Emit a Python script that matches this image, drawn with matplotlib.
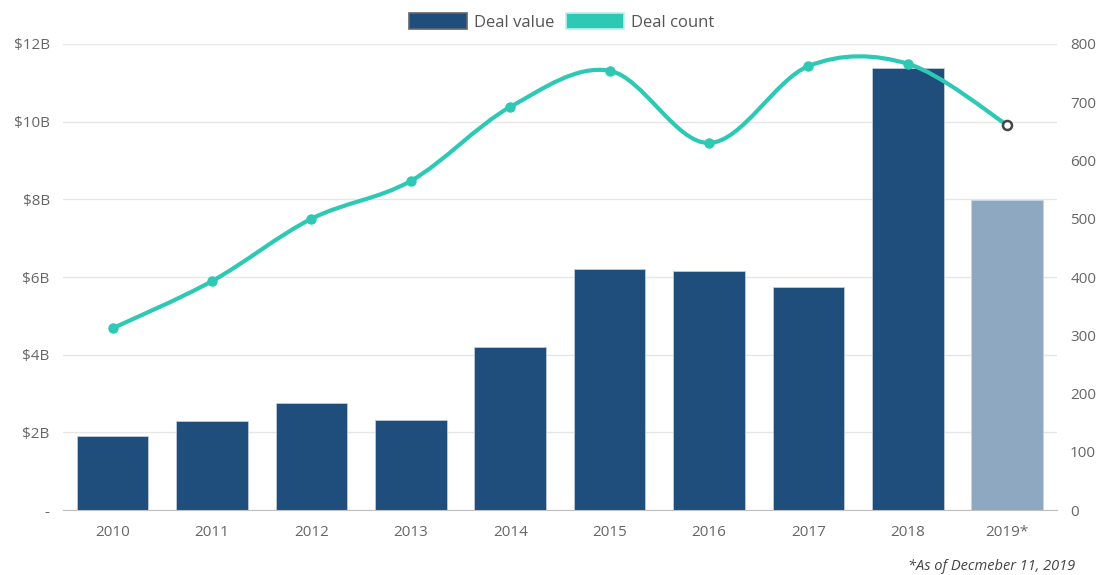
import numpy as np
import matplotlib
matplotlib.use("Agg")
import matplotlib.pyplot as plt
from matplotlib.path import Path
from matplotlib.patches import PathPatch, Patch

years = ["2010", "2011", "2012", "2013", "2014", "2015", "2016", "2017", "2018", "2019*"]
deal_value_b = [1.90, 2.29, 2.76, 2.32, 4.20, 6.20, 6.16, 5.74, 11.38, 7.98]
deal_count = [312, 393, 500, 565, 692, 754, 630, 762, 766, 661]
left_ticks = [0, 2, 4, 6, 8, 10, 12]
left_labels = ["-", "$2B", "$4B", "$6B", "$8B", "$10B", "$12B"]
right_ticks = [0, 100, 200, 300, 400, 500, 600, 700, 800]

BAR = "#1f4e7c"
BAR_LIGHT = "#8fa8c1"
TEAL = "#2ec9b5"
TXT = "#666666"

plt.rcParams['font.family'] = ['Open Sans', 'DejaVu Sans']

fig = plt.figure(figsize=(11.05, 5.75), dpi=100)
ax = fig.add_axes([0.057, 0.113, 0.8995, 0.8105])
ax2 = ax.twinx()

x = np.arange(len(years))
colors = [BAR] * (len(years) - 1) + [BAR_LIGHT]
ax.bar(x, deal_value_b, width=0.72, color=colors, edgecolor="#c8d3de", linewidth=0.5, zorder=2)
ax.set_xlim(-0.5, len(years) - 0.5)
ax.set_ylim(0, 12)
ax.set_yticks(left_ticks)
ax.set_yticklabels(left_labels)
ax.set_xticks(x)
ax.set_xticklabels(years)
ax.grid(axis="y", color="#e6e6e6", linewidth=1, zorder=0)
ax.set_axisbelow(True)
for s in ["top", "right", "left"]:
    ax.spines[s].set_visible(False)
ax.spines["bottom"].set_color("#bfbfbf")
ax.tick_params(axis="y", length=0, pad=9.5, labelsize=11, labelcolor=TXT)
ax.tick_params(axis="x", length=0, pad=11, labelsize=11, labelcolor=TXT)

# Catmull-Rom style smooth curve through the data points
def smooth_path(xs, ys):
    n = len(xs)
    xs_e = [xs[0]] + list(xs) + [xs[-1]]
    ys_e = [ys[0]] + list(ys) + [ys[-1]]
    verts = [(xs[0], ys[0])]
    codes = [Path.MOVETO]
    for i in range(n - 1):
        p0 = (xs_e[i], ys_e[i])
        p1 = (xs_e[i + 1], ys_e[i + 1])
        p2 = (xs_e[i + 2], ys_e[i + 2])
        p3 = (xs_e[i + 3], ys_e[i + 3])
        c1 = (p1[0] + (p2[0] - p0[0]) / 6.0, p1[1] + (p2[1] - p0[1]) / 6.0)
        c2 = (p2[0] - (p3[0] - p1[0]) / 6.0, p2[1] - (p3[1] - p1[1]) / 6.0)
        verts += [c1, c2, p2]
        codes += [Path.CURVE4] * 3
    return Path(verts, codes)

path = smooth_path(list(x.astype(float)), [float(v) for v in deal_count])
ax2.add_patch(PathPatch(path, facecolor="none", edgecolor=TEAL, linewidth=3, zorder=3, capstyle="round"))
ax2.plot(x[:-1], deal_count[:-1], linestyle="none", marker="o", markersize=6.5, color=TEAL, zorder=4)
ax2.plot(x[-1:], deal_count[-1:], linestyle="none", marker="o", markersize=6.5,
         markerfacecolor="white", markeredgecolor="#444444", markeredgewidth=1.8, zorder=5)
ax2.set_ylim(0, 800)
ax2.set_yticks(right_ticks)
for s in ["top", "right", "left", "bottom"]:
    ax2.spines[s].set_visible(False)
ax2.tick_params(axis="y", length=0, pad=9.5, labelsize=11, labelcolor=TXT)

handles = [Patch(facecolor=BAR, edgecolor="#666666", linewidth=1.2, label="Deal value"),
           Patch(facecolor=TEAL, edgecolor="#bff0e9", linewidth=1.2, label="Deal count")]
leg = fig.legend(handles=handles, loc="center", bbox_to_anchor=(0.508, 0.962), ncol=2,
                 frameon=False, fontsize=12, handlelength=3.5, handleheight=1.15,
                 handletextpad=0.4, columnspacing=0.7)
for t in leg.get_texts():
    t.set_color("#555555")

fig.text(0.973, 0.002, "*As of Decmeber 11, 2019", ha="right", va="bottom",
         fontsize=10.5, style="italic", color="#444444")

fig.savefig("out.png", dpi=100)
